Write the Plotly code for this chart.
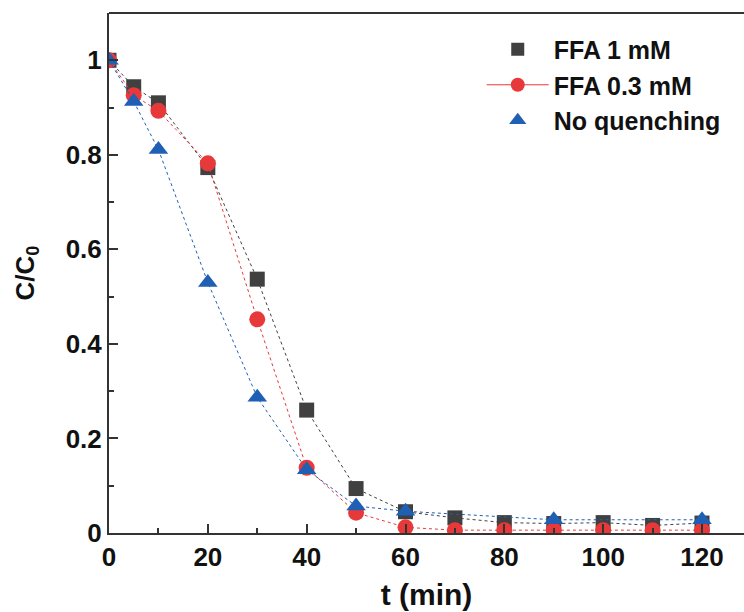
import plotly.graph_objects as go

# Sampling times (min)
t_all = [0, 5, 10, 20, 30, 40, 50, 60, 70, 80, 90, 100, 110, 120]
t_noq = [0, 5, 10, 20, 30, 40, 50, 60, 90, 120]

# Normalised concentration C/C0
ffa_1mM = [1.0, 0.944, 0.91, 0.773, 0.537, 0.26, 0.094, 0.045, 0.032, 0.022, 0.02, 0.022, 0.016, 0.021]
ffa_03mM = [1.0, 0.926, 0.893, 0.782, 0.452, 0.138, 0.043, 0.012, 0.006, 0.006, 0.006, 0.006, 0.006, 0.006]
no_quench = [1.0, 0.913, 0.811, 0.53, 0.287, 0.134, 0.057, 0.046, 0.028, 0.028]

names = ["FFA 1 mM", "FFA 0.3 mM", "No quenching"]
colors = ["#404040", "#e8393a", "#1f5fb4"]

FONT = "Liberation Sans, Arial, sans-serif"

fig = go.Figure()

series = [
    (t_all, ffa_1mM, "square", 15),
    (t_all, ffa_03mM, "circle", 16),
    (t_noq, no_quench, "triangle-up", 17),
]

for (x, y, sym, size), name, col in zip(series, names, colors):
    # thin dotted connecting line + marker
    fig.add_trace(go.Scatter(
        x=x, y=y, mode="lines+markers", name=name,
        line=dict(color=col, width=1, dash="dot"),
        marker=dict(symbol=sym, size=size, color=col),
        showlegend=False,
    ))

# legend entries: only the 0.3 mM entry shows a connecting line
for (x, y, sym, size), name, col in zip(series, names, colors):
    show_line = name == "FFA 0.3 mM"
    fig.add_trace(go.Scatter(
        x=[None], y=[None], name=name,
        mode="lines+markers" if show_line else "markers",
        line=dict(color=col, width=1),
        marker=dict(symbol=sym, size=size - 2, color=col),
    ))

axis_common = dict(
    showline=True, linecolor="#333333", linewidth=2,
    ticks="inside", tickcolor="#333333", tickwidth=2, ticklen=9,
    tickfont=dict(family=FONT, size=26, color="#111111", weight="bold"),
    showgrid=False, zeroline=False,
    minor=dict(ticks="inside", ticklen=5, tickwidth=2, tickcolor="#333333", showgrid=False),
)

fig.update_xaxes(
    range=[0, 128.5], dtick=20, tick0=0, minor_dtick=10,
    title=dict(text="t (min)", standoff=13,
               font=dict(family=FONT, size=30, color="#111111", weight="bold")),
    **axis_common,
)
fig.update_yaxes(
    range=[0, 1.1], tickvals=[0, 0.2, 0.4, 0.6, 0.8, 1.0],
    ticktext=["0", "0.2", "0.4", "0.6", "0.8", "1"], minor_dtick=0.1,
    title=dict(text="C/C<sub>0</sub>", standoff=24,
               font=dict(family=FONT, size=26, color="#111111", weight="bold")),
    **axis_common,
)

# top frame line (the right edge falls outside the figure)
fig.add_shape(type="line", xref="paper", yref="paper", x0=0, x1=1, y0=1, y1=1,
              line=dict(color="#333333", width=2))

fig.update_layout(
    width=744, height=612,
    margin=dict(l=109, r=0, t=13, b=79),
    paper_bgcolor="#ffffff", plot_bgcolor="#ffffff",
    legend=dict(
        x=0.587, y=0.974, xanchor="left", yanchor="top",
        bgcolor="rgba(0,0,0,0)", itemwidth=62, tracegroupgap=0,
        font=dict(family=FONT, size=25, color="#111111", weight="bold"),
    ),
)

fig.write_html("out.html")
